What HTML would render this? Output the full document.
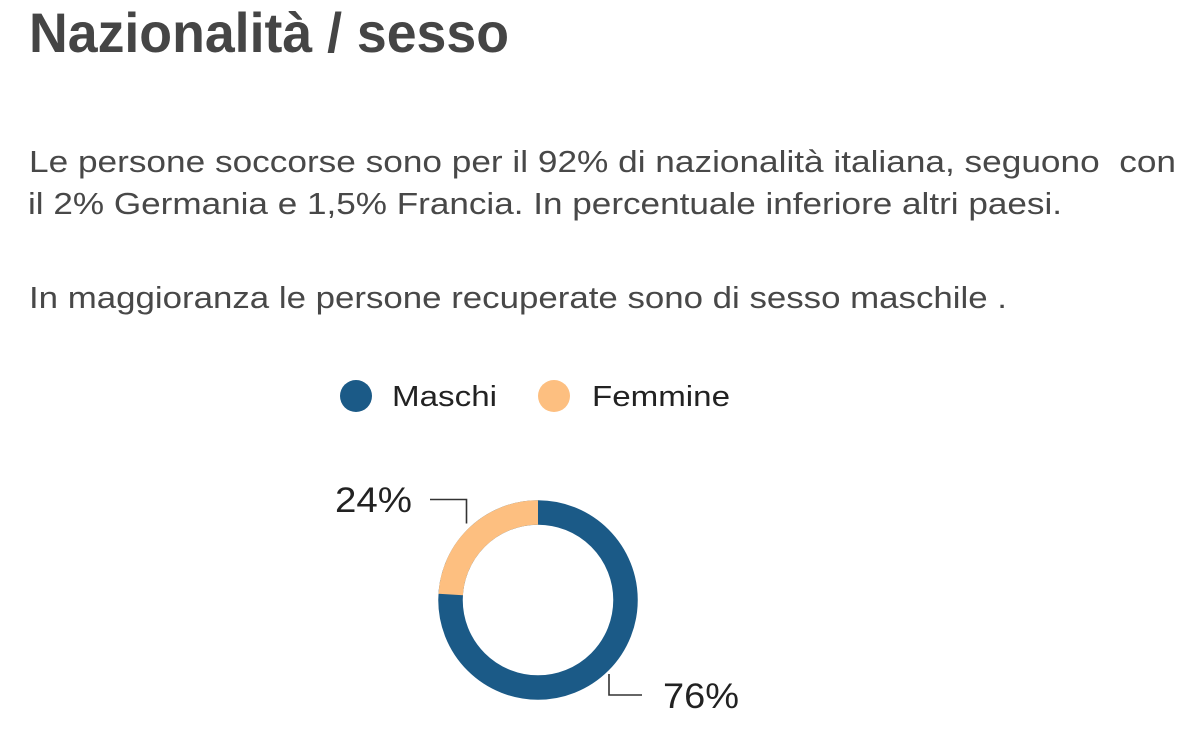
<!DOCTYPE html>
<html>
<head>
<meta charset="utf-8">
<style>
  html, body { margin: 0; padding: 0; background: #ffffff; }
  body { width: 1200px; height: 755px; overflow: hidden; }
  svg { display: block; }
  .t { font-family: "Liberation Sans", sans-serif; }
</style>
</head>
<body>
<svg width="1200" height="755" viewBox="0 0 1200 755" xmlns="http://www.w3.org/2000/svg">
  <rect width="1200" height="755" fill="#ffffff"/>

  <!-- Title -->
  <text class="t" x="29" y="52" font-size="56" font-weight="bold" fill="#454545" textLength="480" lengthAdjust="spacingAndGlyphs">Nazionalità / sesso</text>

  <!-- Body text -->
  <text class="t" x="29" y="172" font-size="31" fill="#484848" textLength="1147" lengthAdjust="spacingAndGlyphs">Le persone soccorse sono per il 92% di nazionalità italiana, seguono&#160; con</text>
  <text class="t" x="28" y="214" font-size="31" fill="#484848" textLength="1034" lengthAdjust="spacingAndGlyphs">il 2% Germania e 1,5% Francia. In percentuale inferiore altri paesi.</text>
  <text class="t" x="29" y="308" font-size="31" fill="#484848" textLength="978" lengthAdjust="spacingAndGlyphs">In maggioranza le persone recuperate sono di sesso maschile .</text>

  <!-- Legend -->
  <circle cx="356" cy="396" r="16" fill="#1b5a87"/>
  <text class="t" x="392" y="406" font-size="29" fill="#222222" textLength="105" lengthAdjust="spacingAndGlyphs">Maschi</text>
  <circle cx="554" cy="396" r="16" fill="#fdbf80"/>
  <text class="t" x="592" y="406" font-size="29" fill="#222222" textLength="138" lengthAdjust="spacingAndGlyphs">Femmine</text>

  <!-- Donut -->
  <circle cx="538" cy="600" r="87.5" fill="none" stroke="#1b5a87" stroke-width="24.5"/>
  <path d="M 538 512.5 A 87.5 87.5 0 0 0 450.67 594.51" fill="none" stroke="#fdbf80" stroke-width="24.5"/>

  <!-- Leader lines -->
  <polyline points="430,499.5 466.5,499.5 466.5,523.5" fill="none" stroke="#333333" stroke-width="1.6"/>
  <polyline points="609,674 609,695 642,695" fill="none" stroke="#333333" stroke-width="1.6"/>

  <!-- Labels -->
  <text class="t" x="335" y="512" font-size="35" fill="#222222" textLength="77" lengthAdjust="spacingAndGlyphs">24%</text>
  <text class="t" x="663" y="708" font-size="35" fill="#222222" textLength="76" lengthAdjust="spacingAndGlyphs">76%</text>
</svg>
</body>
</html>
